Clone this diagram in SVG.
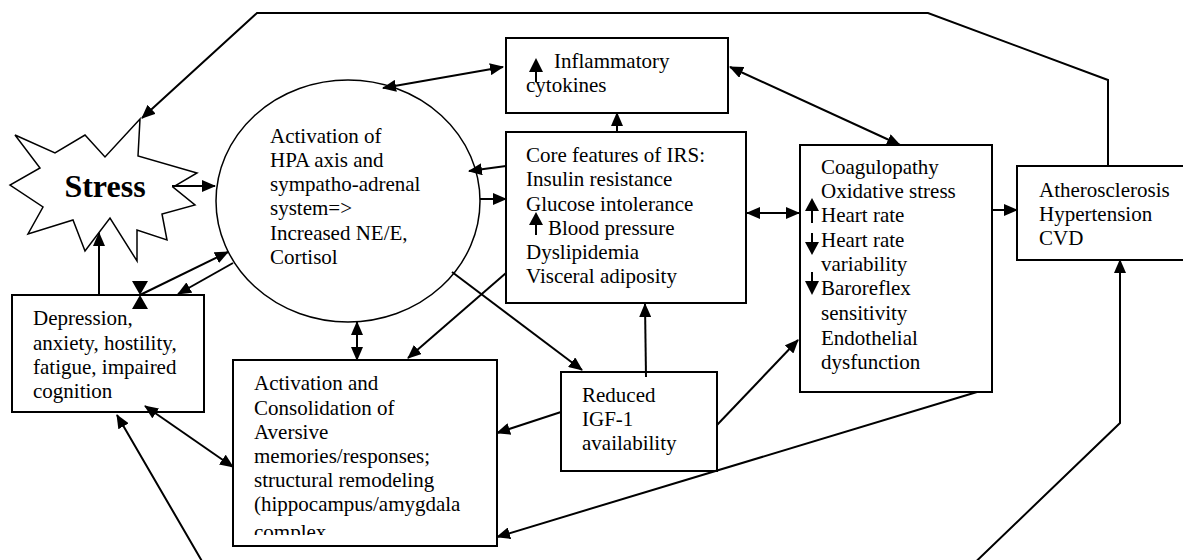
<svg xmlns="http://www.w3.org/2000/svg" width="1183" height="560" viewBox="0 0 1183 560">
<style>
.box{fill:#fff;stroke:#000;stroke-width:2}
.t{font-family:"Liberation Serif","Times New Roman",serif;font-size:21px;fill:#000}
.c{fill:none;stroke:#000;stroke-width:2}
.h{fill:#000;stroke:none}
</style>
<defs>
<marker id="ah" viewBox="0 0 14 12" refX="13" refY="6" markerWidth="14" markerHeight="12" orient="auto-start-reverse" markerUnits="userSpaceOnUse"><path d="M0,0 L14,6 L0,12 z" fill="#000"/></marker>
<clipPath id="clipAct"><rect x="233" y="360" width="264" height="175"/></clipPath>
</defs>
<rect width="1183" height="560" fill="#fff"/>

<g id="stress">
<polygon points="140,119 138,156 197,173 173,187 195,205 162,214 167,240 137,230 137,261 110,218 85,251 73,220 28,234 43,207 10,185 40,168 15,135 55,153 85,135 105,157" fill="#fff" stroke="#000" stroke-width="1.5"/>
<text x="105" y="197" text-anchor="middle" class="t" style="font-size:32px;font-weight:bold">Stress</text>
</g>

<g id="hpa">
<ellipse cx="348" cy="201" rx="132" ry="121" fill="none" stroke="#000" stroke-width="1.5"/>
<text class="t"><tspan x="270" y="143">Activation of</tspan><tspan x="270" y="167">HPA axis and</tspan><tspan x="270" y="191">sympatho-adrenal</tspan><tspan x="270" y="215">system=&gt;</tspan><tspan x="270" y="240">Increased NE/E,</tspan><tspan x="270" y="264">Cortisol</tspan></text>
</g>

<g id="cytokines">
<rect class="box" x="506" y="38" width="222" height="75"/>
<path class="h" d="M536,58 L543,72 L529,72 z"/>
<line x1="536" y1="70" x2="536" y2="82" stroke="#000" stroke-width="2"/>
<text class="t"><tspan x="554" y="68">Inflammatory</tspan><tspan x="526" y="92">cytokines</tspan></text>
</g>

<g id="irs">
<rect class="box" x="506" y="132" width="240" height="171"/>
<path class="h" d="M536,212 L543,225 L529,225 z"/>
<line x1="536" y1="223" x2="536" y2="235" stroke="#000" stroke-width="2"/>
<text class="t"><tspan x="526" y="162">Core features of IRS:</tspan><tspan x="526" y="186">Insulin resistance</tspan><tspan x="526" y="211">Glucose intolerance</tspan><tspan x="548" y="235">Blood pressure</tspan><tspan x="526" y="259">Dyslipidemia</tspan><tspan x="526" y="283">Visceral adiposity</tspan></text>
</g>

<g id="coagulopathy">
<rect class="box" x="800" y="145" width="192" height="247"/>
<path class="h" d="M812,198 L819,211 L805,211 z"/>
<line x1="812" y1="209" x2="812" y2="223" stroke="#000" stroke-width="2"/>
<line x1="812" y1="233" x2="812" y2="243" stroke="#000" stroke-width="2"/>
<path class="h" d="M812,255 L819,242 L805,242 z"/>
<line x1="812" y1="272" x2="812" y2="282" stroke="#000" stroke-width="2"/>
<path class="h" d="M812,295 L819,281 L805,281 z"/>
<text class="t"><tspan x="821" y="174">Coagulopathy</tspan><tspan x="821" y="198">Oxidative stress</tspan><tspan x="821" y="222">Heart rate</tspan><tspan x="821" y="247">Heart rate</tspan><tspan x="821" y="271">variability</tspan><tspan x="821" y="295">Baroreflex</tspan><tspan x="821" y="320">sensitivity</tspan><tspan x="821" y="345">Endothelial</tspan><tspan x="821" y="369">dysfunction</tspan></text>
</g>

<g id="cvd">
<rect class="box" x="1017" y="166" width="180" height="94"/>
<text class="t"><tspan x="1039" y="197">Atherosclerosis</tspan><tspan x="1039" y="221">Hypertension</tspan><tspan x="1039" y="245">CVD</tspan></text>
</g>

<g id="depression">
<rect class="box" x="12" y="295" width="192" height="117"/>
<text class="t"><tspan x="33" y="325">Depression,</tspan><tspan x="33" y="350">anxiety, hostility,</tspan><tspan x="33" y="374">fatigue, impaired</tspan><tspan x="33" y="398">cognition</tspan></text>
</g>

<g id="memories">
<rect class="box" x="233" y="360" width="264" height="186"/>
<text class="t" clip-path="url(#clipAct)"><tspan x="254" y="390">Activation and</tspan><tspan x="254" y="415">Consolidation of</tspan><tspan x="254" y="439">Aversive</tspan><tspan x="254" y="463">memories/responses;</tspan><tspan x="254" y="487">structural remodeling</tspan><tspan x="254" y="511">(hippocampus/amygdala</tspan><tspan x="254" y="539">complex</tspan></text>
</g>

<g id="igf">
<rect class="box" x="561" y="372" width="156" height="99"/>
<text class="t"><tspan x="582" y="402">Reduced</tspan><tspan x="582" y="426">IGF-1</tspan><tspan x="582" y="450">availability</tspan></text>
</g>

<g id="connectors">
<polyline class="c" points="1108,166 1108,80 928,13 257,13 142,118" marker-end="url(#ah)"/>
<line class="c" x1="172" y1="186" x2="215" y2="186" marker-end="url(#ah)"/>
<line class="c" x1="383" y1="88" x2="503" y2="67" marker-start="url(#ah)" marker-end="url(#ah)"/>
<line class="c" x1="730" y1="67" x2="900" y2="145" marker-start="url(#ah)" marker-end="url(#ah)"/>
<line class="c" x1="617" y1="132" x2="617" y2="113" marker-end="url(#ah)"/>
<line class="c" x1="506" y1="166" x2="469" y2="171" marker-end="url(#ah)"/>
<line class="c" x1="480" y1="199" x2="506" y2="199" marker-end="url(#ah)"/>
<line class="c" x1="747" y1="213" x2="799" y2="213" marker-start="url(#ah)" marker-end="url(#ah)"/>
<line class="c" x1="992" y1="210" x2="1017" y2="210" marker-end="url(#ah)"/>
<line class="c" x1="99" y1="295" x2="99" y2="233" marker-end="url(#ah)"/>
<line class="c" x1="140" y1="295" x2="228" y2="252" marker-end="url(#ah)"/>
<path class="h" d="M132,281 L148,281 L140,295 z M132,309 L148,309 L140,295 z"/>
<line class="c" x1="233" y1="263" x2="178" y2="294" marker-end="url(#ah)"/>
<line class="c" x1="357" y1="322" x2="357" y2="360" marker-start="url(#ah)" marker-end="url(#ah)"/>
<line class="c" x1="145" y1="406" x2="233" y2="467" marker-start="url(#ah)" marker-end="url(#ah)"/>
<polyline class="c" points="117,415 210,575 962,575 1120,423 1120,260" marker-start="url(#ah)" marker-end="url(#ah)"/>
<line class="c" x1="506" y1="273" x2="408" y2="358" marker-end="url(#ah)"/>
<line class="c" x1="452" y1="272" x2="582" y2="370" marker-end="url(#ah)"/>
<line class="c" x1="646" y1="377" x2="645" y2="304" marker-end="url(#ah)"/>
<line class="c" x1="561" y1="412" x2="497" y2="433" marker-end="url(#ah)"/>
<line class="c" x1="717" y1="425" x2="798" y2="340" marker-end="url(#ah)"/>
<line class="c" x1="977" y1="392" x2="497" y2="537" marker-end="url(#ah)"/>
</g>
</svg>
